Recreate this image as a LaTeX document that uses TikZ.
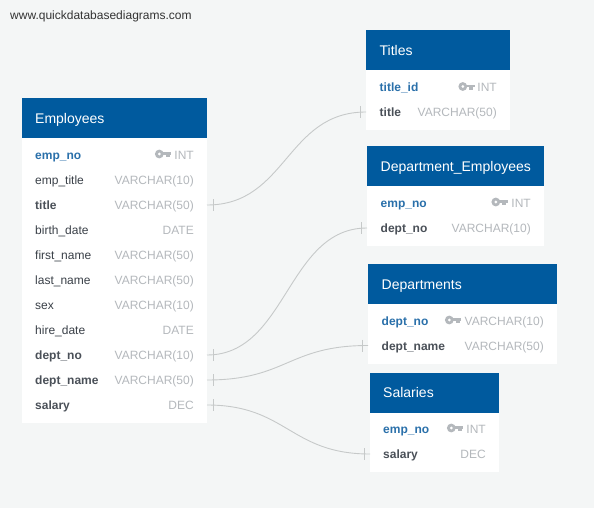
\documentclass[tikz,border=0pt]{standalone}
\usepackage{fontspec}
\setmainfont{Liberation Sans}
\usetikzlibrary{calc}
\definecolor{bgc}{HTML}{F4F6F6}
\definecolor{headc}{HTML}{005A9E}
\definecolor{pkc}{HTML}{2A70AA}
\definecolor{namec}{HTML}{3A4048}
\definecolor{fkc}{HTML}{4A5058}
\definecolor{typec}{HTML}{B4B8BC}
\definecolor{linkc}{HTML}{C6C9C9}
\tikzset{
  x=1pt,y=-1pt,
  headbox/.style={fill=headc,draw=none,minimum height=40pt,inner sep=0pt,anchor=north west},
  bodybox/.style={fill=white,draw=none,inner sep=0pt,anchor=north west},
  title/.style={text=white,font=\fontsize{14}{14}\selectfont,anchor=base west,inner sep=0pt},
  pk/.style={text=pkc,font=\fontsize{12}{12}\selectfont\bfseries,anchor=base west,inner sep=0pt},
  fk/.style={text=fkc,font=\fontsize{12}{12}\selectfont\bfseries,anchor=base west,inner sep=0pt},
  fld/.style={text=namec,font=\fontsize{12}{12}\selectfont,anchor=base west,inner sep=0pt},
  typ/.style={text=typec,font=\fontsize{12}{12}\selectfont,anchor=base east,inner sep=0pt},
  lnk/.style={draw=linkc,line width=0.9pt},
  tick/.style={draw=linkc,line width=0.9pt},
  plain/.style={text=black!80,font=\fontsize{12}{12}\selectfont,anchor=base west,inner sep=0pt},
}
% key icon: \keyicon{name}{x}{y}
\newcommand{\keyicon}[3]{%
  \coordinate (#1) at (#2,#3);
  \fill[typec,even odd rule] ($(#1)+(4.3,0)$) circle (4.4) ($(#1)+(4.3,0)$) circle (1.8);
  \fill[typec] ($(#1)+(7.5,-1.8)$) rectangle ($(#1)+(16,1)$);
  \fill[typec] ($(#1)+(10.5,0)$) rectangle ($(#1)+(14.5,3.2)$);
}
% \lnkcurve{a}{b}: row port a (right side) to port b (left side)
\newcommand{\lnkcurve}[2]{%
  \draw[lnk] (#1) .. controls ($(#1)+(80,0)$) and ($(#2)+(-80,0)$) .. (#2);
  \draw[tick] ($(#1)+(6,-6)$) -- ($(#1)+(6,6)$);
  \draw[tick] ($(#2)+(-6,-6)$) -- ($(#2)+(-6,6)$);
}
\begin{document}
\begin{tikzpicture}
\useasboundingbox[fill=bgc] (0,0) rectangle (594,508);
\node[plain] (site) at (10,20) {www.quickdatabasediagrams.com};

% Employees
\node[bodybox,minimum width=185pt,minimum height=325pt] (eBody) at (22,98) {};
\node[headbox,minimum width=185pt] (eHead) at (22,98) {};
\node[title] (eT) at (35,123.6) {Employees};
\foreach \n/\t/\yy/\s in {
  emp\_no/INT/155/pk,
  emp\_title/VARCHAR(10)/180/fld,
  title/VARCHAR(50)/205/fk,
  birth\_date/DATE/230/fld,
  first\_name/VARCHAR(50)/255/fld,
  last\_name/VARCHAR(50)/280/fld,
  sex/VARCHAR(10)/305/fld,
  hire\_date/DATE/330/fld,
  dept\_no/VARCHAR(10)/355/fk,
  dept\_name/VARCHAR(50)/380/fk,
  salary/DEC/405/fk}{
  \node[\s] (eN\yy) at (35,\yy+4) {\n};
  \node[typ] (eY\yy) at (194,\yy+4) {\t};
}
\keyicon{kE}{155}{154}

% Titles
\node[bodybox,minimum width=144pt,minimum height=100pt] (tBody) at (366,30) {};
\node[headbox,minimum width=144pt] (tHead) at (366,30) {};
\node[title] (tT) at (379.5,55.6) {Titles};
\node[pk] (tN1) at (379.5,91.5) {title\_id};
\node[typ] (tY1) at (497,91.5) {INT};
\node[fk] (tN2) at (379.5,116.5) {title};
\node[typ] (tY2) at (497,116.5) {VARCHAR(50)};
\keyicon{kT}{458.5}{86.5}

% Department_Employees
\node[bodybox,minimum width=177pt,minimum height=100pt] (dBody) at (367,146) {};
\node[headbox,minimum width=177pt] (dHead) at (367,146) {};
\node[title] (dT) at (380.5,171.4) {Department\_Employees};
\node[pk] (dN1) at (380.5,207) {emp\_no};
\node[typ] (dY1) at (531,207) {INT};
\node[fk] (dN2) at (380.5,232) {dept\_no};
\node[typ] (dY2) at (531,232) {VARCHAR(10)};
\keyicon{kD}{491.5}{202}

% Departments
\node[bodybox,minimum width=189pt,minimum height=100pt] (pBody) at (368,264) {};
\node[headbox,minimum width=189pt] (pHead) at (368,264) {};
\node[title] (pT) at (381.5,289.4) {Departments};
\node[pk] (pN1) at (381.5,325) {dept\_no};
\node[typ] (pY1) at (544,325) {VARCHAR(10)};
\node[fk] (pN2) at (381.5,350) {dept\_name};
\node[typ] (pY2) at (544,350) {VARCHAR(50)};
\keyicon{kP}{445}{320}

% Salaries
\node[bodybox,minimum width=129pt,minimum height=99pt] (sBody) at (370,373) {};
\node[headbox,minimum width=129pt] (sHead) at (370,373) {};
\node[title] (sT) at (383,397) {Salaries};
\node[pk] (sN1) at (383,433) {emp\_no};
\node[typ] (sY1) at (486,433) {INT};
\node[fk] (sN2) at (383,458) {salary};
\node[typ] (sY2) at (486,458) {DEC};
\keyicon{kS}{447}{428}

% ports
\coordinate (eTitle) at (207,205);
\coordinate (eDno) at (207,355);
\coordinate (eDname) at (207,380);
\coordinate (eSal) at (207,405);
\coordinate (tTitle) at (366,112);
\coordinate (dDno) at (367,228);
\coordinate (pDname) at (368,345.5);
\coordinate (sSal) at (370,454);

\lnkcurve{eTitle}{tTitle}
\lnkcurve{eDno}{dDno}
\lnkcurve{eDname}{pDname}
\lnkcurve{eSal}{sSal}
\end{tikzpicture}
\end{document}
